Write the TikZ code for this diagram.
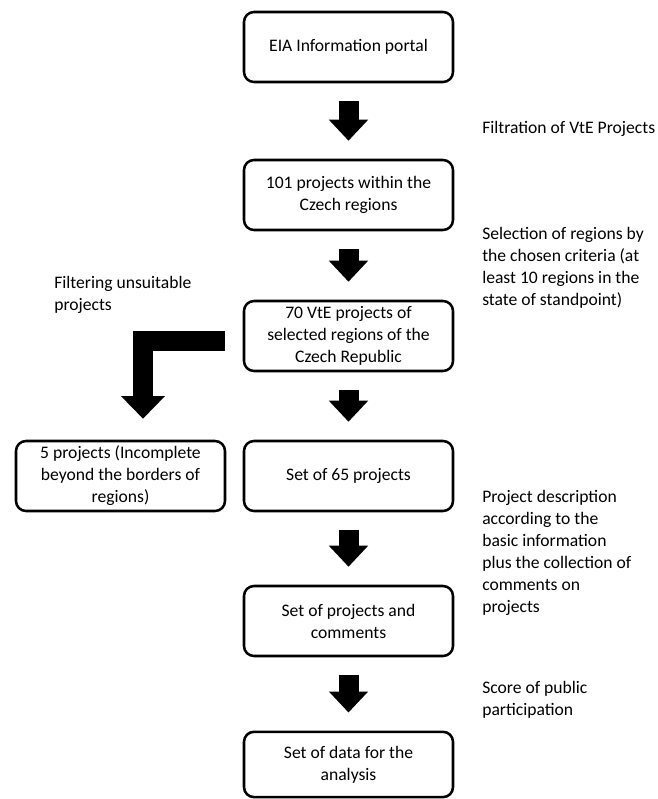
\documentclass[tikz,border=0pt]{standalone}
\usepackage{fontspec}
\setmainfont{Carlito}
\usetikzlibrary{positioning}
\usetikzlibrary{arrows.meta}

\begin{document}
\begin{tikzpicture}[x=0.75pt,y=-0.75pt,on grid,
		font=\fontsize{13.2}{16.5}\selectfont,
		box/.style={rectangle,rounded corners=7.5pt,draw=black,line width=1.9pt,minimum width=156.75pt,minimum height=52.5pt,inner sep=2pt,align=center},
		note/.style={anchor=base west,align=left,inner sep=0pt},
		bigarrow/.style={line width=15pt,-{Triangle[width=28.5pt,length=15.75pt]},shorten <=13.5pt,shorten >=13.5pt}]
		\useasboundingbox (0,0) rectangle (657,799);
		\node[box]  (portal)   at (348.5,47)                 {EIA Information portal};
		\node[box]  (czech)    [below=111pt of portal]       {101 projects within the\\Czech regions};
		\node[box]  (selected) [below=105.75pt of czech]     {70 VtE projects of\\selected regions of the\\Czech Republic};
		\node[box]  (set65)    [below=105pt of selected]     {Set of 65 projects};
		\node[box]  (excluded) [left=171pt of set65]         {5 projects (Incomplete\\beyond the borders of\\regions)};
		\node[box]  (comments) [below=108.75pt of set65]     {Set of projects and\\comments};
		\node[box,minimum height=49pt] (data) [below=107.6pt of comments] {Set of data for the\\analysis};
		
		% texts beside the arrows
		\node[note] (filtr)  at (482,133) {Filtration of VtE Projects};
		\node[note] (selreg) at (482,305) {Selection of regions by\\the chosen criteria (at\\least 10 regions in the\\state of standpoint)};
		\node[note] (filt)   at (54,310)  {Filtering unsuitable\\projects};
		\node[note] (descr)  at (482,612) {Project description\\according to the\\basic information\\plus the collection of\\comments on\\projects};
		\node[note] (score)  at (482,715) {Score of public\\participation};
		
		\coordinate (bend) at (143,341);
		
		\path[bigarrow]
		(portal) edge (czech)
		(czech) edge (selected)
		(selected) edge (set65)
		(set65) edge (comments)
		(comments) edge (data);
		\draw[bigarrow,line join=miter,-{Triangle[width=32pt,length=17pt]},shorten <=13.5pt,shorten >=15.75pt] (selected.west |- bend) -- (bend) -- (bend |- excluded.north);
		\end{tikzpicture}
\end{document}
